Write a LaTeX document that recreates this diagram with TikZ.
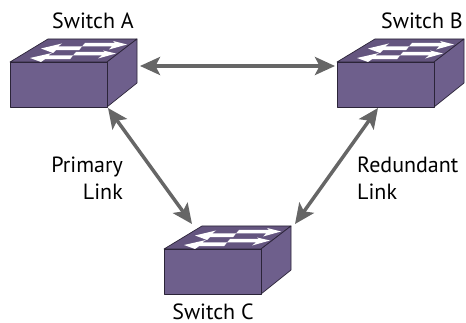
\documentclass[tikz,border=0pt]{standalone}
\usepackage{fontspec}
\setmainfont{PT Sans}
\usetikzlibrary{arrows.meta}
\definecolor{swfill}{HTML}{6E5F8C}
\definecolor{swtop}{HTML}{64557F}
\definecolor{swline}{HTML}{2B2438}
\definecolor{linkgray}{HTML}{666666}
\tikzset{
  x=1pt,y=-1pt,
  swface/.style={fill=swfill,draw=swline,line width=0.7pt,line join=round},
  swtopface/.style={fill=swtop,draw=swline,line width=0.7pt,line join=round},
  whitearrow/.style={fill=white,draw=none},
  link/.style={draw=linkgray,line width=3.5pt,{Stealth[length=20pt,width=18pt,inset=4.5pt]}-{Stealth[length=20pt,width=18pt,inset=4.5pt]}},
  lbl/.style={inner sep=0pt,font=\fontsize{22}{26}\selectfont},
  switchpic/.pic={
    \path[swtopface] (10,62) -- (48,39) -- (137,39) -- (107,62) -- cycle;
    \path[swface] (107,62) -- (137,39) -- (137,83) -- (107,107) -- cycle;
    \path[swface] (10,62) rectangle (107,107);
    % upper pair of arrows
    \path[whitearrow] (41,48.5) -- (62,43.5) -- (58,46.5) -- (82,46.5) -- (79,50.2) -- (56,50.2) -- (53,53) -- cycle;
    \path[whitearrow] (127,44.5) -- (113,41) -- (115,43) -- (85,43) -- (82,46.5) -- (112,46.5) -- (109,49.5) -- cycle;
    % lower pair of arrows
    \path[whitearrow] (30,58) -- (52,53) -- (48,55.5) -- (73,55.5) -- (70,59.2) -- (45,59.2) -- (41,62) -- cycle;
    \path[whitearrow] (116,53.5) -- (103,50.5) -- (105,52) -- (76,52) -- (73,55.5) -- (102,55.5) -- (98,58.5) -- cycle;
  }
}
\begin{document}
\begin{tikzpicture}
\useasboundingbox (0,0) rectangle (466,323);
\pic at (0,0) {switchpic};
\pic at (327,0) {switchpic};
\pic at (154,187) {switchpic};
\node[lbl,anchor=base] (sa) at (93,29) {Switch A};
\node[lbl,anchor=base] (sb) at (422,29) {Switch B};
\node[lbl,anchor=base] (sc) at (213,319) {Switch C};
\node[lbl,anchor=base east] (pl1) at (123,173) {Primary};
\node[lbl,anchor=base east] (pl2) at (123,200) {Link};
\node[lbl,anchor=base west] (rl1) at (357,173) {Redundant};
\node[lbl,anchor=base west] (rl2) at (357,200) {Link};
\coordinate (abl) at (140,66);
\coordinate (abr) at (335,66);
\coordinate (acs) at (108,108);
\coordinate (ace) at (192,224);
\coordinate (bcs) at (378,108);
\coordinate (bce) at (295,224);
\draw[link] (abl) -- (abr);
\draw[link] (acs) -- (ace);
\draw[link] (bcs) -- (bce);
\end{tikzpicture}
\end{document}
